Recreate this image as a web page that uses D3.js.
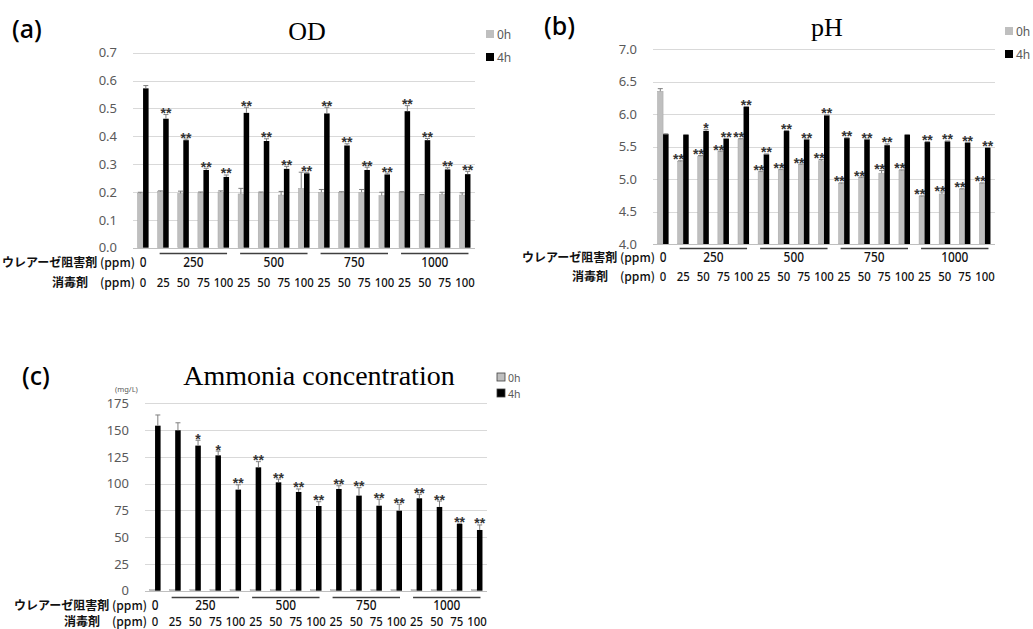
<!DOCTYPE html>
<html><head><meta charset="utf-8">
<script src="https://cdn.jsdelivr.net/npm/d3@7"></script>
<style>
html,body{margin:0;padding:0;background:#fff;}
svg{display:block;}
</style></head>
<body><svg id="chart" width="1033" height="629"></svg>
<script>
// ---------- data ----------
const disinfectant = ["0","25","50","75","100","25","50","75","100","25","50","75","100","25","50","75","100"];
const inhibitorGroups = ["0","250","500","750","1000"];
const seriesNames = ["0h","4h"];

const od0h    = [0.195,0.201,0.195,0.197,0.200,0.193,0.197,0.189,0.213,0.199,0.199,0.199,0.187,0.199,0.189,0.191,0.189];
const od0hErr = [0.004,0.003,0.008,0.003,0.004,0.020,0.003,0.013,0.058,0.010,0.002,0.010,0.012,0.002,0.002,0.008,0.008];
const od4h    = [0.572,0.463,0.386,0.279,0.254,0.484,0.383,0.283,0.267,0.482,0.367,0.279,0.263,0.490,0.386,0.281,0.264];
const od4hErr = [0.010,0.015,0.004,0.006,0.007,0.020,0.008,0.009,0.004,0.022,0.006,0.010,0.005,0.020,0.006,0.006,0.010];
const odSig0h = ["","","","","","","","","","","","","","","","",""];
const odSig4h = ["","**","**","**","**","**","**","**","**","**","**","**","**","**","**","**","**"];
const odTicks = [0,0.1,0.2,0.3,0.4,0.5,0.6,0.7];

const ph0h    = [6.35,5.27,5.35,5.42,5.61,5.11,5.14,5.22,5.28,4.93,5.02,5.09,5.13,4.73,4.77,4.84,4.93];
const ph0hErr = [0.04,0.01,0.01,0.01,0.01,0.01,0.01,0.01,0.02,0.01,0.01,0.04,0.01,0.01,0.03,0.01,0.01];
const ph4h    = [5.69,5.68,5.74,5.62,6.11,5.38,5.74,5.61,5.98,5.63,5.61,5.52,5.68,5.57,5.58,5.56,5.48];
const ph4hErr = [0.005,0.005,0.02,0.005,0.005,0.005,0.005,0.005,0.005,0.005,0.005,0.02,0.005,0.005,0.005,0.005,0.005];
const phSig0h = ["","**","**","**","**","**","**","**","**","**","**","**","**","**","**","**","**"];
const phSig4h = ["","","*","**","**","**","**","**","**","**","**","**","","**","**","**","**"];
const phTicks = [4.0,4.5,5.0,5.5,6.0,6.5,7.0];

const nh0h    = [1,1,1,1,1,1,1,1,1,1,1,1,1,1,1,1,1];
const nh0hErr = [0,0,0,0,0,0,0,0,0,0,0,0,0,0,0,0,0];
const nh4h    = [154.1,149.8,135.5,126.4,94.4,115.2,101.2,92.2,79.1,95.0,88.8,79.4,74.7,86.3,78.2,62.3,56.7];
const nh4hErr = [10,7,5,4,4.5,5.3,3,2.8,4,3,7.4,6,6,3.7,5.5,0.6,4.7];
const nhSig0h = ["","","","","","","","","","","","","","","","",""];
const nhSig4h = ["","","*","*","**","**","**","**","**","**","**","**","**","**","**","**","**"];
const nhTicks = [0,25,50,75,100,125,150,175];

const rowLabel1 = ["ウレアーゼ阻害剤", " (ppm)"];
const rowLabel2 = ["消毒剤", "\u3000(ppm)"];

// ---------- drawing ----------
const svg = d3.select("#chart");
svg.append("rect").attr("width",1033).attr("height",629).attr("fill","#fff");

const GRAY = "#bfbfbf";
const TXT = "#595959";
const SANS = "'Noto Sans','Open Sans',sans-serif";
const NUM = "'Noto Sans','Liberation Sans',sans-serif";
const STAR = "'Liberation Sans','Noto Sans',sans-serif";
const JP = "'Noto Sans CJK JP','Noto Sans',sans-serif";
const SERIF = "'Liberation Serif','DejaVu Serif',serif";

function rowLabel(g, parts, x, y){
  const t = g.append("text").attr("x",x).attr("y",y).attr("text-anchor","end")
    .attr("font-family",JP).attr("font-size",12).attr("fill","#111");
  t.append("tspan").attr("font-weight","bold").text(parts[0]);
  t.append("tspan").attr("font-weight",500).text(parts[1]);
}

function panel(o){
  const g = svg.append("g");
  const x = d3.scaleBand().domain(d3.range(disinfectant.length)).range([o.left,o.right])
      .paddingInner(0.45).paddingOuter(0.225);
  const xs = d3.scaleBand().domain(seriesNames).range([0,x.bandwidth()]);
  const y = d3.scaleLinear().domain(o.domain).range([o.bottom,o.top]);

  // gridlines
  g.selectAll("line.grid").data(o.ticks.slice(1)).join("line")
    .attr("x1",o.left).attr("x2",o.right)
    .attr("y1",d=>Math.round(y(d))+0.5).attr("y2",d=>Math.round(y(d))+0.5)
    .attr("stroke","#d9d9d9").attr("stroke-width",1);
  // y axis labels
  const ax = d3.axisLeft(y).tickValues(o.ticks).tickFormat(o.fmt).tickSize(0).tickPadding(16);
  const ag = g.append("g").attr("transform",`translate(${o.left},0)`).call(ax);
  ag.select(".domain").remove();
  ag.selectAll("text").attr("fill",TXT).attr("font-family",SANS).attr("font-size",13);

  const series = [
    {name:"0h", vals:o.v0, err:o.e0, sig:o.s0, fill:GRAY, soff:-2},
    {name:"4h", vals:o.v4, err:o.e4, sig:o.s4, fill:"#000", soff:0}
  ];
  series.forEach(s=>{
    const bx = i => x(i)+xs(s.name);
    const w = xs.bandwidth();
    g.selectAll(null).data(s.vals).join("rect")
      .attr("x",(d,i)=>bx(i)).attr("width",w)
      .attr("y",d=>y(d)).attr("height",d=>y(o.domain[0])-y(d))
      .attr("fill",s.fill).attr("stroke", s.name==="0h"? "#a6a6a6":"none").attr("stroke-width",0.5);
    // error bars (upper)
    const eb = g.selectAll(null).data(s.vals.map((d,i)=>({v:d,e:s.err[i],i}))).join("g")
      .filter(d=>d.e>0);
    eb.append("line").attr("x1",d=>bx(d.i)+w/2).attr("x2",d=>bx(d.i)+w/2)
      .attr("y1",d=>y(d.v)).attr("y2",d=>y(d.v+d.e)).attr("stroke","#7f7f7f").attr("stroke-width",1);
    eb.append("line").attr("x1",d=>bx(d.i)+w/2-2.5).attr("x2",d=>bx(d.i)+w/2+2.5)
      .attr("y1",d=>y(d.v+d.e)).attr("y2",d=>y(d.v+d.e)).attr("stroke","#7f7f7f").attr("stroke-width",1);
    // significance
    g.selectAll(null).data(s.vals.map((d,i)=>({v:d,e:s.err[i],t:s.sig[i],i}))).join("text")
      .filter(d=>d.t!=="")
      .attr("x",d=>bx(d.i)+w/2+s.soff).attr("y",d=>y(d.v+d.e)+3.5)
      .attr("text-anchor","middle").attr("font-family",STAR).attr("font-size",14).attr("font-weight","bold")
      .attr("fill","#333").text(d=>d.t);
  });

  // baseline
  g.append("line").attr("x1",o.left).attr("x2",o.right)
    .attr("y1",Math.round(y(o.domain[0]))+0.5).attr("y2",Math.round(y(o.domain[0]))+0.5)
    .attr("stroke","#bfbfbf").attr("stroke-width",1);

  // category rows
  const c0 = x(0)+x.bandwidth()/2;
  rowLabel(g, rowLabel1, o.left+2, o.row1);
  rowLabel(g, rowLabel2, o.left+2, o.row2);
  g.selectAll(null).data(disinfectant).join("text")
    .attr("x",(d,i)=>x(i)+x.bandwidth()/2).attr("y",o.row2).attr("text-anchor","middle")
    .attr("font-family",NUM).attr("font-weight",500).attr("font-size",13).attr("fill","#111")
    .attr("textLength",d=>d.length*6.5).attr("lengthAdjust","spacingAndGlyphs").text(d=>d);
  // inhibitor groups
  inhibitorGroups.forEach((gname,k)=>{
    let cx, i0, i1;
    if(k===0){ cx=c0; }
    else {
      i0=(k-1)*4+1; i1=i0+3;
      const xa = x(i0)+2, xb = x(i1)+x.bandwidth()-2;
      cx=(xa+xb)/2;
      g.append("line").attr("x1",xa).attr("x2",xb).attr("y1",o.gline).attr("y2",o.gline)
        .attr("stroke","#404040").attr("stroke-width",1.3);
    }
    g.append("text").attr("x",cx).attr("y",o.row1).attr("text-anchor","middle")
      .attr("font-family",NUM).attr("font-weight",500).attr("font-size",13.5).attr("fill","#111")
      .attr("textLength",gname.length*6.8).attr("lengthAdjust","spacingAndGlyphs").text(gname);
  });

  // title
  g.append("text").attr("x",o.tx).attr("y",o.ty).attr("text-anchor","middle")
    .attr("font-family",SERIF).attr("font-size",o.tsize).attr("fill","#000").text(o.title);
  // panel letter
  g.append("text").attr("x",o.lx).attr("y",o.ly)
    .attr("font-family",SANS).attr("font-size",25).attr("font-weight",500).attr("fill","#000").text(o.letter);
  // legend
  series.forEach((s,k)=>{
    g.append("rect").attr("x",o.legx).attr("y",o.legy+k*o.legdy).attr("width",8).attr("height",8)
      .attr("fill",s.fill).attr("stroke", o.legBorder ? "#404040":"none").attr("stroke-width",0.8);
    g.append("text").attr("x",o.legx+11).attr("y",o.legy+k*o.legdy+8.5)
      .attr("font-family",SANS).attr("font-size",o.legsize).attr("fill",TXT).text(s.name);
  });
  return {g,x,y};
}

panel({left:133,right:475,top:52.7,bottom:247.7,domain:[0,0.7],ticks:odTicks,fmt:d3.format(".1f"),
  v0:od0h,e0:od0hErr,s0:odSig0h,v4:od4h,e4:od4hErr,s4:odSig4h,
  row1:267,row2:287,gline:253.5,title:"OD",tx:307,ty:40,tsize:26,letter:"(a)",lx:12,ly:38,
  legx:486,legy:30,legdy:23,legsize:12});

panel({left:653,right:995,top:49,bottom:244,domain:[4,7],ticks:phTicks,fmt:d3.format(".1f"),
  v0:ph0h,e0:ph0hErr,s0:phSig0h,v4:ph4h,e4:ph4hErr,s4:phSig4h,
  row1:262,row2:281,gline:248.5,title:"pH",tx:827,ty:36,tsize:26,letter:"(b)",lx:544,ly:35,
  legx:1005,legy:27,legdy:23,legsize:12});

const pc = panel({left:145,right:487,top:403.3,bottom:590.7,domain:[0,175],ticks:nhTicks,fmt:d3.format("d"),
  v0:nh0h,e0:nh0hErr,s0:nhSig0h,v4:nh4h,e4:nh4hErr,s4:nhSig4h,
  row1:610,row2:626,gline:597.5,title:"Ammonia concentration",tx:319,ty:385,tsize:28,letter:"(c)",lx:22,ly:385,
  legx:497,legy:373,legdy:16,legsize:10.5,legBorder:true});
pc.g.append("text").attr("x",115).attr("y",392).attr("font-family",SANS).attr("font-size",7.5)
  .attr("fill",TXT).text("(mg/L)");
</script></body></html>
